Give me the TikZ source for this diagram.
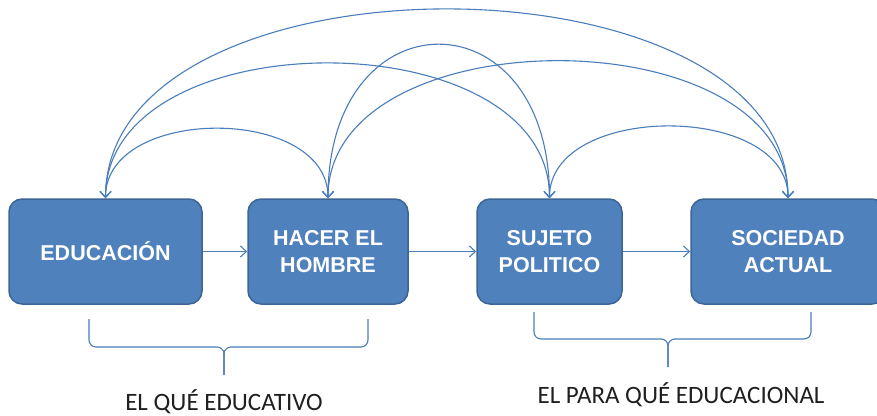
\documentclass[tikz,border=0pt]{standalone}
\usepackage{fontspec}
\setmainfont{Liberation Sans}
\newfontfamily\calibri{Carlito}
\usetikzlibrary{arrows.meta}
\definecolor{boxfill}{HTML}{4F81BD}
\definecolor{boxline}{HTML}{3C6494}
\definecolor{linkc}{HTML}{4A7EBB}
\definecolor{labc}{HTML}{1F1F1F}
\tikzset{
  box/.style={draw=boxline, line width=1.5pt, fill=boxfill, rounded corners=13pt,
    minimum height=105pt, text=white, font=\fontsize{21.5}{27}\selectfont\bfseries,
    align=center, inner sep=0pt},
  link/.style={draw=linkc, line width=1.1pt,
    {Straight Barb[length=6pt,width=11pt]}-{Straight Barb[length=6pt,width=11pt]}},
  flow/.style={draw=linkc, line width=1.1pt, -{Straight Barb[length=6pt,width=11pt]}},
  bracestyle/.style={draw=linkc, line width=1.1pt, rounded corners=7pt},
  lab/.style={text=labc, font=\calibri\fontsize{25}{29}\selectfont, inner sep=0pt, anchor=base}
}
\begin{document}
\begin{tikzpicture}[x=1pt,y=-1pt]
\useasboundingbox (0,0) rectangle (877,415);
\fill[white] (0,0) rectangle (877,415);

\node[box, minimum width=193pt] (b1) at (105.5,251.5) {EDUCACIÓN};
\node[box, minimum width=160pt] (b2) at (328,251.5) {HACER EL\\HOMBRE};
\node[box, minimum width=145pt] (b3) at (549.5,251.5) {SUJETO\\POLITICO};
\node[box, minimum width=194pt] (b4) at (788,251.5) {SOCIEDAD\\ACTUAL};

\draw[flow] (b1.east) -- (b2.west);
\draw[flow] (b2.east) -- (b3.west);
\draw[flow] (b3.east) -- (b4.west);

\draw[link] (b1.north) .. controls +(0,-93) and +(0,-93) .. (b2.north);
\draw[link] (b1.north) .. controls +(0,-180) and +(0,-180) .. (b3.north);
\draw[link] (b1.north) .. controls +(0,-252) and +(0,-252) .. (b4.north);
\draw[link] (b2.north) .. controls +(0,-205) and +(0,-205) .. (b3.north);
\draw[link] (b2.north) .. controls +(0,-183) and +(0,-183) .. (b4.north);
\draw[link] (b3.north) .. controls +(0,-96) and +(0,-96) .. (b4.north);

\draw[bracestyle] (89,319) -- (89,347) -- (224,347) -- (224,375);
\draw[bracestyle] (368,319) -- (368,347) -- (224,347) -- (224,375);
\draw[bracestyle] (534,312) -- (534,339) -- (668,339) -- (668,367);
\draw[bracestyle] (811,312) -- (811,339) -- (668,339) -- (668,367);

\node[lab] (l1) at (224,410) {EL QUÉ EDUCATIVO};
\node[lab] (l2) at (681,403) {EL PARA QUÉ EDUCACIONAL};
\end{tikzpicture}
\end{document}
